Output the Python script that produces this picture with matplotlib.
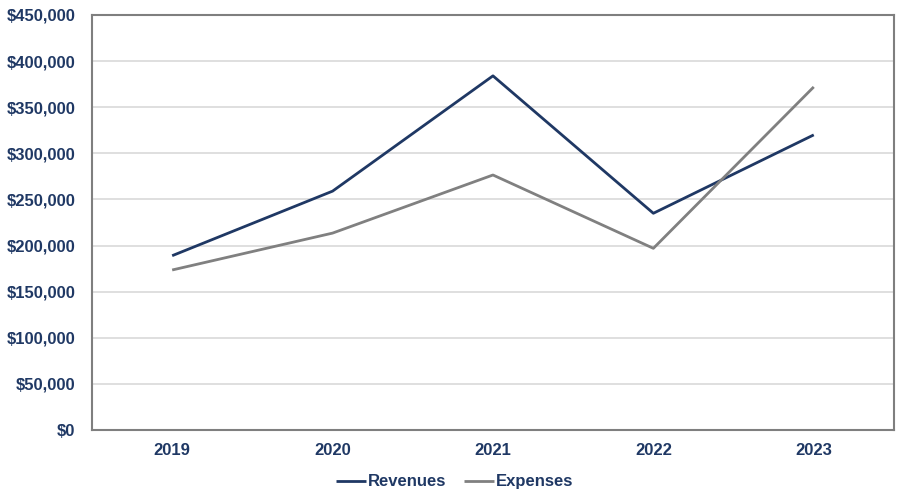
import matplotlib.pyplot as plt
from matplotlib.ticker import FuncFormatter

years = ["2019", "2020", "2021", "2022", "2023"]
revenues = [189000, 259000, 384000, 235000, 320000]
expenses = [173500, 213500, 276500, 197000, 372000]

NAVY = "#1F3864"
GREY = "#808080"

plt.rcParams["font.family"] = ["Liberation Sans", "DejaVu Sans"]

fig = plt.figure(figsize=(8.99, 4.91), dpi=100)
ax = fig.add_axes([0.1023, 0.1242, 0.8921, 0.8453])

x = range(len(years))
ax.plot(x, revenues, color=NAVY, lw=2.0, label="Revenues", solid_capstyle="butt")
ax.plot(x, expenses, color=GREY, lw=2.0, label="Expenses", solid_capstyle="butt")

ax.set_xlim(-0.5, len(years) - 0.5)
ax.set_ylim(0, 450000)
ax.set_yticks(range(0, 450001, 50000))
ax.yaxis.set_major_formatter(FuncFormatter(lambda v, p: f"${v:,.0f}"))
ax.set_xticks(list(x))
ax.set_xticklabels(years)

ax.grid(axis="y", color="#D9D9D9", lw=1.2)
ax.set_axisbelow(True)
for s in ax.spines.values():
    s.set_color("#7F7F7F")
    s.set_linewidth(1.5)

ax.tick_params(length=0, labelsize=12, labelcolor=NAVY)
ax.tick_params(axis="y", pad=12)
ax.tick_params(axis="x", pad=9)
for t in ax.get_xticklabels() + ax.get_yticklabels():
    t.set_fontweight("bold")

leg = ax.legend(loc="center", bbox_to_anchor=(0.452, -0.125), ncol=2, frameon=False,
                handlelength=1.8, handletextpad=0.1, columnspacing=1.1,
                prop={"weight": "bold", "size": 12})
for t in leg.get_texts():
    t.set_color(NAVY)

fig.savefig("out.png", dpi=100)
